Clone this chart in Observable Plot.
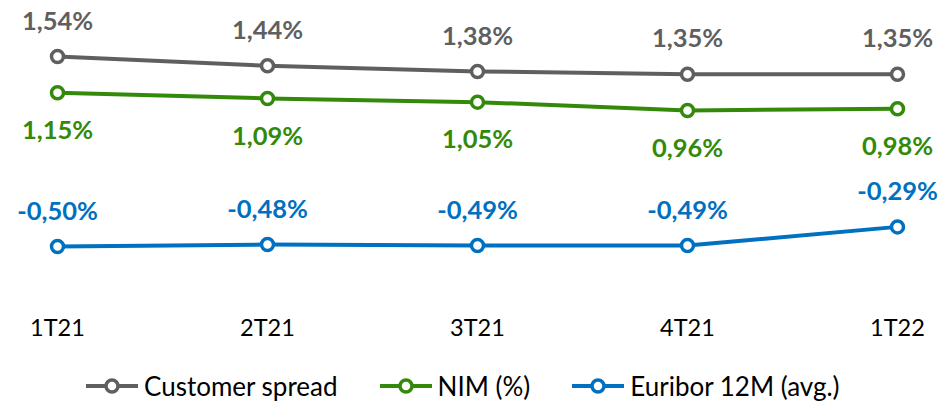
<!DOCTYPE html>
<html>
<head>
<meta charset="utf-8">
<script src="https://cdn.jsdelivr.net/npm/d3@7"></script>
<script src="https://cdn.jsdelivr.net/npm/@observablehq/plot@0.6"></script>
<style>
  body { margin: 0; background: #fff; font-family: Lato, "Open Sans", sans-serif; }
  #legend { display: flex; align-items: center; height: 30px; margin-top: 11px; padding-left: 85px; }
  .item { display: flex; align-items: center; margin-right: 41px; font-size: 26px; color: #000; }
  .item svg { margin-right: 5px; }
</style>
</head>
<body>
<div id="chart"></div>
<div id="legend"></div>
<script>
const quarters = ["1T21", "2T21", "3T21", "4T21", "1T22"];
const customerSpread = [1.54, 1.44, 1.38, 1.35, 1.35];
const nim = [1.15, 1.09, 1.05, 0.96, 0.98];
const euribor = [-0.50, -0.48, -0.49, -0.49, -0.29];
const seriesNames = ["Customer spread", "NIM (%)", "Euribor 12M (avg.)"];
const seriesColors = ["#5f5f5f", "#338a0a", "#0070c0"];
const labelSide = [-1, 1, -1];

const allValues = [customerSpread, nim, euribor];
const fmt = v => v.toFixed(2).replace(".", ",") + "%";

const marks = [];
allValues.forEach((vals, i) => {
  const rows = quarters.map((q, j) => ({q, v: vals[j]}));
  marks.push(Plot.line(rows, {x: "q", y: "v", stroke: seriesColors[i], strokeWidth: 4}));
  marks.push(Plot.dot(rows, {x: "q", y: "v", r: 6, fill: "white", stroke: seriesColors[i], strokeWidth: 3.5}));
  marks.push(Plot.text(rows, {x: "q", y: "v", text: d => fmt(d.v), fill: seriesColors[i],
    fontSize: 25.5, fontWeight: "bold", dy: labelSide[i] < 0 ? -35 : 38}));
});

const chart = Plot.plot({
  width: 947,
  height: 360,
  marginLeft: 57,
  marginRight: 50,
  marginTop: 22.5,
  marginBottom: 48.9,
  style: {fontFamily: "Lato, 'Open Sans', sans-serif", fontSize: "23.5px", color: "#000", background: "white"},
  x: {type: "point", domain: quarters, padding: 0, tickSize: 0, tickPadding: 8, label: null},
  y: {domain: [-1.2, 1.9], axis: null},
  marks
});
document.getElementById("chart").appendChild(chart);

const legend = document.getElementById("legend");
seriesNames.forEach((name, i) => {
  const item = document.createElement("div");
  item.className = "item";
  item.innerHTML = `<svg width="54" height="20"><line x1="1" y1="10" x2="53" y2="10" stroke="${seriesColors[i]}" stroke-width="4"/><circle cx="27" cy="10" r="6" fill="white" stroke="${seriesColors[i]}" stroke-width="3.5"/></svg><span>${name}</span>`;
  legend.appendChild(item);
});
</script>
</body>
</html>
